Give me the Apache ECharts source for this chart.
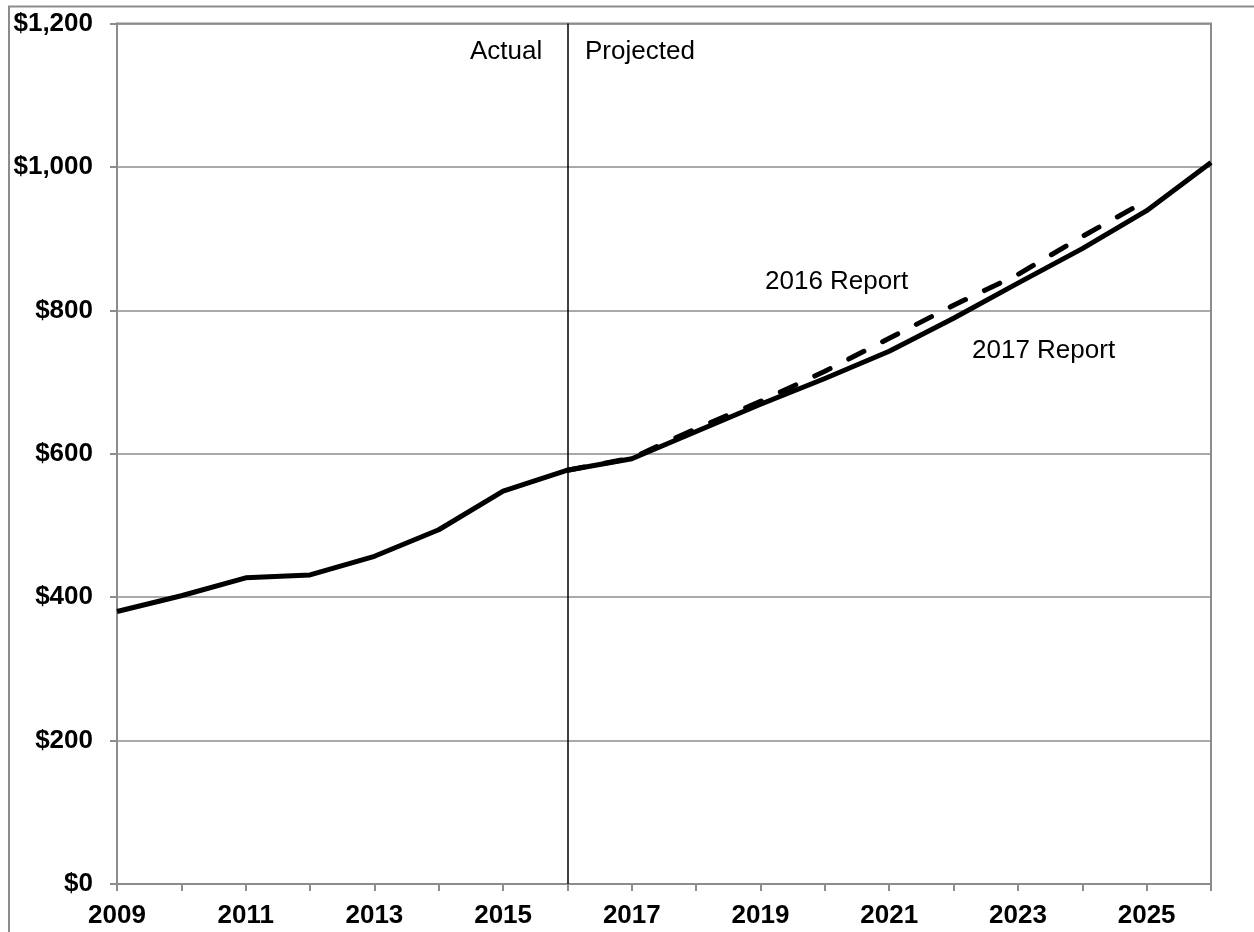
<!DOCTYPE html>
<html>
<head>
<meta charset="utf-8">
<script src="https://cdn.jsdelivr.net/npm/echarts@6/dist/echarts.min.js"></script>
<style>
  html, body { margin: 0; padding: 0; background: #fff; }
  #chart { width: 1254px; height: 932px; }
</style>
</head>
<body>
<div id="chart"></div>
<script>
// Years on the horizontal axis
const years = [2009, 2010, 2011, 2012, 2013, 2014, 2015, 2016, 2017,
               2018, 2019, 2020, 2021, 2022, 2023, 2024, 2025, 2026];
// 2017 Report: actual through 2016, projected after
const report2017 = [380, 402, 427, 431, 457, 494, 548, 577, 593,
                    631, 669, 705, 743, 789, 838, 886, 939, 1006];
// 2016 Report projection years and values
const years2016 = [2016, 2017, 2018, 2019, 2020, 2021, 2022, 2023, 2024, 2025];
const report2016 = [577, 594, 635, 673, 715, 761, 807, 850, 903, 953];
// Year separating actual from projected values
const splitYear = 2016;
// Y tick values
const yTicks = [0, 200, 400, 600, 800, 1000, 1200];

const FONT = "'Liberation Sans', Arial, sans-serif";
const GRAY = '#8c8c8c';

const chart = echarts.init(document.getElementById('chart'), null, { renderer: 'canvas' });

chart.setOption({
  animation: false,
  backgroundColor: '#fff',
  grid: {
    left: 117, top: 23.5, right: 43, bottom: 48,
    show: true, borderColor: GRAY, borderWidth: 2, backgroundColor: 'transparent'
  },
  xAxis: {
    type: 'value',
    min: years[0],
    max: years[years.length - 1],
    interval: 1,
    axisLine: { show: true, lineStyle: { color: GRAY, width: 2 } },
    axisTick: { show: true, length: 7, lineStyle: { color: GRAY, width: 2 } },
    splitLine: { show: false },
    axisLabel: {
      margin: 19,
      fontFamily: FONT, fontSize: 26, fontWeight: 'bold', color: '#000',
      formatter: v => (v % 2 === 1 && v < years[years.length - 1]) ? String(v) : ''
    }
  },
  yAxis: {
    type: 'value',
    min: yTicks[0],
    max: yTicks[yTicks.length - 1],
    interval: 200,
    axisLine: { show: true, lineStyle: { color: GRAY, width: 2 } },
    axisTick: { show: true, length: 7, lineStyle: { color: GRAY, width: 2 } },
    splitLine: { show: true, lineStyle: { color: GRAY, width: 1.5 } },
    axisLabel: {
      margin: 24,
      fontFamily: FONT, fontSize: 26, fontWeight: 'bold', color: '#000',
      formatter: v => '$' + v.toLocaleString('en-US')
    }
  },
  series: [
    {
      name: '2016 Report',
      type: 'line',
      data: years2016.map((y, i) => [y, report2016[i]]),
      symbol: 'none',
      lineStyle: { color: '#000', width: 5, type: [17, 21], cap: 'round' },
      z: 2
    },
    {
      name: '2017 Report',
      type: 'line',
      data: years.map((y, i) => [y, report2017[i]]),
      symbol: 'none',
      lineStyle: { color: '#000', width: 5, join: 'round' },
      z: 3,
      markLine: {
        silent: true,
        symbol: 'none',
        label: { show: false },
        lineStyle: { color: '#000', width: 1.5, type: 'solid' },
        data: [{ xAxis: splitYear }]
      }
    }
  ],
  graphic: [
    {
      type: 'polyline',
      shape: { points: [[9, 940], [9, 6.5], [1260, 6.5]] },
      style: { stroke: GRAY, lineWidth: 2, fill: null },
      silent: true
    },
    {
      type: 'text', left: 470, top: 39,
      style: { text: 'Actual', font: '26px ' + FONT, fill: '#000' }
    },
    {
      type: 'text', left: 585, top: 39,
      style: { text: 'Projected', font: '26px ' + FONT, fill: '#000' }
    },
    {
      type: 'text', left: 765, top: 269,
      style: { text: '2016 Report', font: '26px ' + FONT, fill: '#000' }
    },
    {
      type: 'text', left: 972, top: 338,
      style: { text: '2017 Report', font: '26px ' + FONT, fill: '#000' }
    }
  ]
});
</script>
</body>
</html>
